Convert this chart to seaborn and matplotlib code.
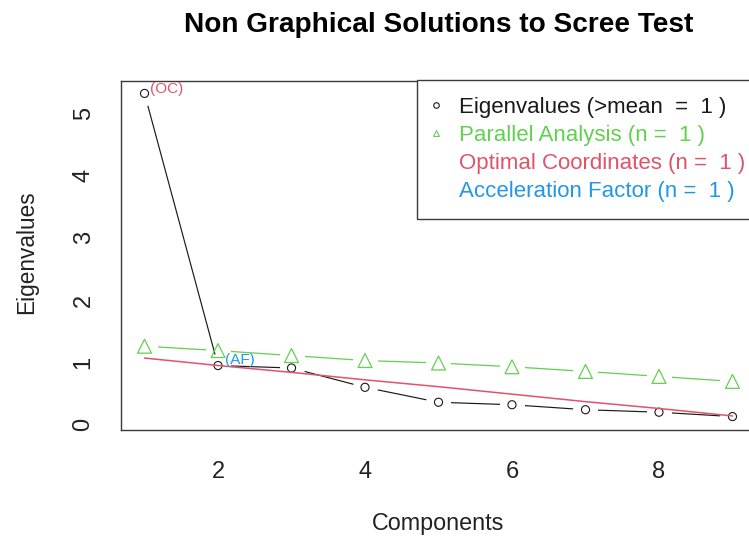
import matplotlib
matplotlib.use("Agg")
import matplotlib.pyplot as plt
from matplotlib.lines import Line2D
import numpy as np
import pandas as pd
import seaborn as sns

# Scree data for nine components
components = [1, 2, 3, 4, 5, 6, 7, 8, 9]
eigenvalues = [5.32, 0.95, 0.91, 0.60, 0.36, 0.32, 0.24, 0.20, 0.13]
parallel_analysis = [1.26, 1.19, 1.11, 1.03, 0.99, 0.93, 0.855, 0.775, 0.695]
optimal_coordinates = [1.07, 0.95, 0.84, 0.72, 0.61, 0.49, 0.37, 0.26, 0.14]
x_ticks = [2, 4, 6, 8]
y_ticks = [0, 1, 2, 3, 4, 5]
legend_labels = [
    "Eigenvalues (>mean  =  1 )",
    "Parallel Analysis (n =  1 )",
    "Optimal Coordinates (n =  1 )",
    "Acceleration Factor (n =  1 )",
]

BLACK = "#1a1a1a"
GREEN = "#61D04F"
RED = "#DF536B"
BLUE = "#2297E6"
AXIS = "#3a3a3a"

df = pd.DataFrame({
    "component": components,
    "eigen": eigenvalues,
    "pa": parallel_analysis,
    "oc": optimal_coordinates,
})

sns.set_theme(style="white")
plt.rcParams["font.family"] = ["Liberation Sans", "DejaVu Sans"]

fig = plt.figure(figsize=(7.49, 5.38), dpi=100)
ax = fig.add_axes([121 / 749, 108.5 / 538, 635 / 749, 349 / 538])

gap_size = 18 ** 2  # white halo that opens the line around each point

# Parallel analysis: line with gaps, then triangles
sns.lineplot(data=df, x="component", y="pa", color=GREEN, lw=0.9, ax=ax, zorder=1)
ax.scatter(df["component"], df["pa"], s=gap_size, color="white", lw=0, zorder=1.5)
# Eigenvalues: line with gaps, then open circles
sns.lineplot(data=df, x="component", y="eigen", color=BLACK, lw=0.85, ax=ax, zorder=2)
ax.scatter(df["component"], df["eigen"], s=gap_size, color="white", lw=0, zorder=2.5)
sns.scatterplot(data=df, x="component", y="eigen", marker="o", s=34,
                facecolor="none", edgecolor=BLACK, linewidth=0.8, ax=ax, zorder=3)
sns.scatterplot(data=df, x="component", y="pa", marker="^", s=100,
                facecolor="none", edgecolor=GREEN, linewidth=0.9, ax=ax, zorder=3)
# Optimal coordinates line
sns.lineplot(data=df, x="component", y="oc", color=RED, lw=1.1, ax=ax, zorder=4)

# Point annotations
ax.annotate("(OC)", xy=(components[0], eigenvalues[0]), xytext=(4, 3),
            textcoords="offset points", ha="left", va="center",
            color=RED, fontsize=11, zorder=5)
ax.annotate("(AF)", xy=(components[1], eigenvalues[1]), xytext=(5, 4),
            textcoords="offset points", ha="left", va="center",
            color=BLUE, fontsize=11, zorder=5)

# Axis ranges padded 4% like base graphics
xmin, xmax = min(components), max(components)
ymin = min(eigenvalues + parallel_analysis + optimal_coordinates)
ymax = max(eigenvalues + parallel_analysis + optimal_coordinates)
ax.set_xlim(xmin - 0.04 * (xmax - xmin), xmax + 0.04 * (xmax - xmin))
ax.set_ylim(ymin - 0.04 * (ymax - ymin), ymax + 0.04 * (ymax - ymin))

ax.set_xticks(x_ticks)
ax.set_yticks(y_ticks)
ax.set_xlabel("")
ax.set_ylabel("")
ax.tick_params(axis="both", direction="out", length=10, width=0.9,
               color=AXIS, labelsize=17, labelcolor="#222222")
ax.tick_params(axis="x", pad=12.5)
ax.tick_params(axis="y", pad=9, labelrotation=90)
for lab in ax.get_yticklabels():
    lab.set_va("center")
for spine in ax.spines.values():
    spine.set_visible(True)
    spine.set_color(AXIS)
    spine.set_linewidth(1.0)
ax.grid(False)

# Legend
handles = [
    Line2D([], [], ls="none", marker="o", mfc="none", mec=BLACK, ms=4, mew=0.8),
    Line2D([], [], ls="none", marker="^", mfc="none", mec=GREEN, ms=5, mew=0.8),
    Line2D([], [], ls="none"),
    Line2D([], [], ls="none"),
]
leg = ax.legend(handles, legend_labels, loc="upper left",
                bbox_to_anchor=((417 - 121) / 635, 1.0), borderaxespad=0,
                frameon=True, fancybox=False, framealpha=1, edgecolor=AXIS,
                fontsize=16, handlelength=0.19, handletextpad=0.97,
                borderpad=0.75, labelspacing=0.32)
leg.get_frame().set_linewidth(1.0)
for txt, col in zip(leg.get_texts(), [BLACK, GREEN, RED, BLUE]):
    txt.set_color(col)
leg.set_zorder(6)

# Titles and axis labels
fig.text(438.5 / 749, 1 - 25 / 538, "Non Graphical Solutions to Scree Test",
         ha="center", va="center", fontsize=20.2, fontweight="bold", color="black")
fig.text(438.5 / 749, 8 / 538, "Components", ha="center", va="baseline",
         fontsize=16.8, color="#222222")
fig.text(33.3 / 749, 1 - 252 / 538, "Eigenvalues", ha="center", va="baseline",
         rotation=90, rotation_mode="anchor", fontsize=16.3, color="#222222")

fig.savefig("out.png", dpi=100)
